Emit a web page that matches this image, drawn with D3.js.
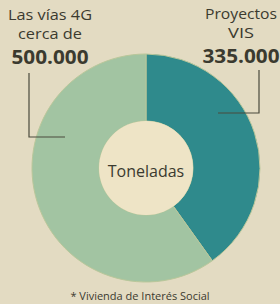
<!DOCTYPE html>
<html lang="es">
<head>
<meta charset="UTF-8">
<title>Toneladas</title>
<script src="https://cdn.jsdelivr.net/npm/d3@7"></script>
<style>
    body{margin:0;background:#e3dbc4;}
    text{font-family:"Open Sans",sans-serif;fill:#3b3a2f;}
</style>
</head>
<body>
<div class="container"></div>
<script>
    // data
    const categories = ["Proyectos VIS", "Las vías 4G"]
    const values = [335000, 500000]
    const labelLines = [["Proyectos", "VIS"], ["Las vías 4G", "cerca de"]]
    const valueLabels = ["335.000", "500.000"]
    const colors = ["#2f8a8c", "#a2c4a2"]

    const W = 280, H = 304
    const cx = 146, cy = 168, rOut = 114, rIn = 47

    const svg = d3.select(".container").append("svg")
        .attr("width", W).attr("height", H)

    svg.append("rect").attr("width", W).attr("height", H).attr("fill", "#e3dbc2")

    const pie = d3.pie().sort(null).value(d => d)
    const arc = d3.arc().innerRadius(rIn).outerRadius(rOut)

    const g = svg.append("g").attr("transform", `translate(${cx},${cy})`)
    g.selectAll("path")
        .data(pie(values))
        .join("path")
        .attr("d", arc)
        .attr("fill", (d, i) => colors[i])
        .attr("stroke", "#b9c79a")
        .attr("stroke-width", 1)

    // hole
    g.append("circle").attr("r", rIn).attr("fill", "#eee4c6")
    g.append("text").attr("y", 9).attr("text-anchor", "middle")
        .style("font-size", "16px").text("Toneladas")

    // labels, one text per line so they don't overlap
    const labelPos = [{x: 241, y: 19}, {x: 50, y: 20}]
    labelPos.forEach((p, i) => {
        labelLines[i].forEach((s, j) => {
            svg.append("text").attr("text-anchor", "middle")
                .attr("x", p.x).attr("y", p.y + j * 19)
                .style("font-size", "14px")
                .attr("textLength", i == 0 ? (j == 0 ? 72 : 26) : (j == 0 ? 84 : 64))
                .attr("lengthAdjust", "spacingAndGlyphs")
                .text(s)
        })
        svg.append("text").attr("text-anchor", "middle")
            .attr("x", p.x).attr("y", p.y + 44)
            .style("font-size", "20px").style("font-weight", "bold")
            .attr("textLength", 77).attr("lengthAdjust", "spacingAndGlyphs")
            .text(valueLabels[i])
    })

    // leader lines
    const leaders = [
        [[259, 70], [259, 113], [218, 113]],
        [[29, 73], [29, 137], [65, 137]]
    ]
    svg.selectAll(".leader").data(leaders).join("path")
        .attr("class", "leader")
        .attr("d", d3.line())
        .attr("fill", "none").attr("stroke", "#4a4a3c").attr("stroke-width", 1.2)

    svg.append("text").attr("x", 140).attr("y", 300).attr("text-anchor", "middle")
        .style("font-size", "11px").text("* Vivienda de Interés Social")
</script>
</body>
</html>
